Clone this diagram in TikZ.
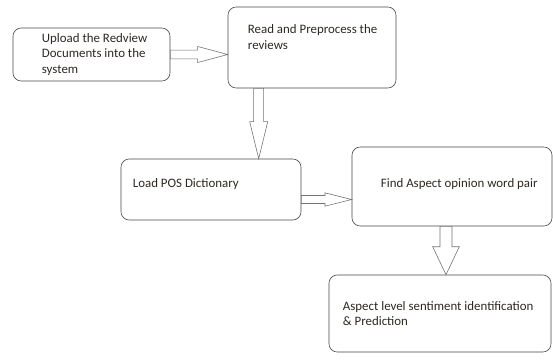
\documentclass[tikz,border=0pt]{standalone}
\usepackage{fontspec}
\setmainfont{Carlito}
\usepackage{tikz}
\usetikzlibrary{positioning,calc}
\definecolor{boxline}{RGB}{70,70,70}
\definecolor{arrline}{RGB}{115,115,115}
\definecolor{txtcol}{RGB}{45,40,35}

% hollow block arrows: from, to, head length, shaft half width, head half width
\newcommand{\rightblock}[5]{%
  \draw[blockarr] let \p1=(#1), \p2=(#2) in
    (\x1,\y1+#4) -- (\x2-#3,\y1+#4) -- (\x2-#3,\y1+#5) -- (\x2,\y1)
    -- (\x2-#3,\y1-#5) -- (\x2-#3,\y1-#4) -- (\x1,\y1-#4) -- cycle;}
\newcommand{\downblock}[5]{%
  \draw[blockarr] let \p1=(#1), \p2=(#2) in
    (\x1-#4,\y1) -- (\x1-#4,\y2+#3) -- (\x1-#5,\y2+#3) -- (\x1,\y2)
    -- (\x1+#5,\y2+#3) -- (\x1+#4,\y2+#3) -- (\x1+#4,\y1) -- cycle;}

\begin{document}
\begin{tikzpicture}[x=0.03cm, y=-0.03cm,
    font=\fontsize{11}{13.2}\selectfont,
    stepbox/.style={draw=boxline, line width=0.5pt, rounded corners=7pt,
                    inner sep=0pt},
    txt/.style={text=txtcol, align=left, inner sep=0pt, anchor=west},
    blockarr/.style={draw=arrline, line width=0.5pt, fill=white}]
  \useasboundingbox (0,0) rectangle (553,361);

  % boxes
  \node[stepbox, minimum width=4.71cm, minimum height=1.59cm] (Upload) at (91.5,54.5) {};
  \node[stepbox, minimum width=5.04cm, minimum height=2.43cm] (Read) at (312,47.5) {};
  \node[stepbox, minimum width=5.4cm, minimum height=1.83cm] (Load) at (211,189.5) {};
  \node[stepbox, minimum width=6.0cm, minimum height=2.37cm] (Find) at (452,186.5) {};
  \node[stepbox, minimum width=6.66cm, minimum height=2.31cm] (Aspect) at (440,313.5) {};

  % texts
  \node[txt] (uploadtxt) at ($(Upload.west)+(29,0)$) {Upload the Redview\\Documents into the\\system};
  \node[txt] (readtxt) at ($(Read.west)+(20,-10.5)$) {Read and Preprocess the\\reviews};
  \node[txt] (loadtxt) at ($(Load.west)+(12,-5.5)$) {Load POS Dictionary};
  \node[txt] (findtxt) at ($(Find.west)+(29,-2)$) {Find Aspect opinion word pair};
  \node[txt] (aspecttxt) at ($(Aspect.west)+(14,0)$) {Aspect level sentiment identification\\\& Prediction};

  % arrows
  \coordinate (a1) at (Upload.east);
  \coordinate (a2) at ($(Read.south west)+(31,0)$);
  \coordinate (a3) at ($(Load.east)+(0,10)$);
  \coordinate (a4) at ($(Find.south)+(-6,0)$);
  \rightblock{a1}{Read.west |- a1}{0.9cm}{0.13cm}{0.24cm}
  \downblock{a2}{a2 |- Load.north}{1.11cm}{0.15cm}{0.27cm}
  \rightblock{a3}{Find.west |- a3}{0.8cm}{0.12cm}{0.2cm}
  \downblock{a4}{a4 |- Aspect.north}{0.84cm}{0.18cm}{0.4cm}
\end{tikzpicture}
\end{document}
